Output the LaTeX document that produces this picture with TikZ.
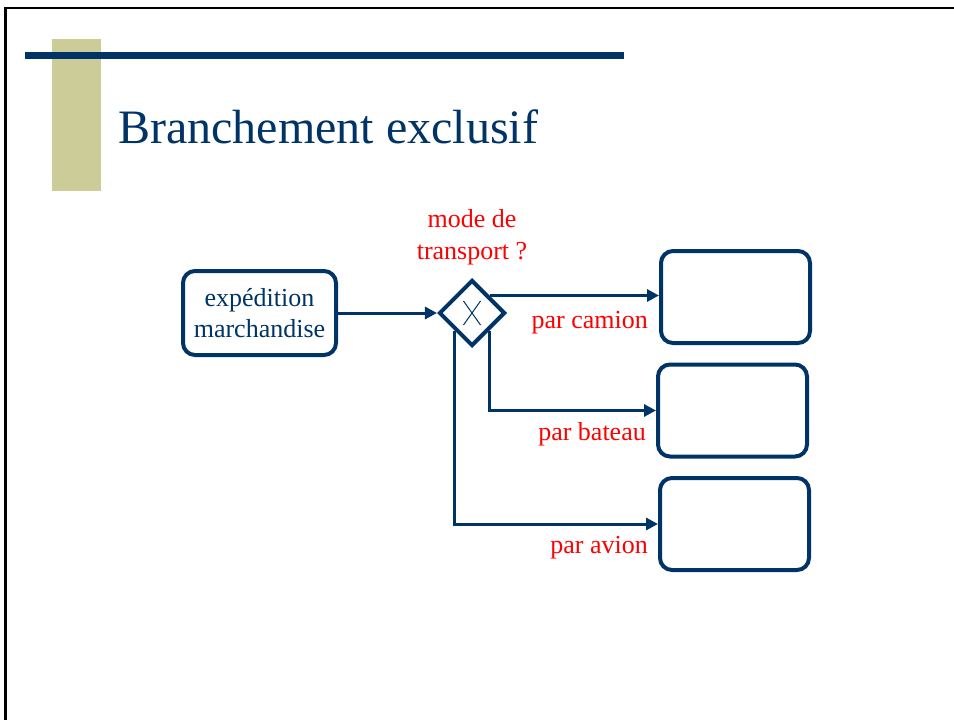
\documentclass[tikz,border=0pt]{standalone}
\usepackage{fontspec}
\setmainfont{Liberation Serif}
\usetikzlibrary{shapes.geometric,arrows.meta}
\definecolor{navy}{RGB}{0,51,102}
\definecolor{olive}{RGB}{204,204,153}
\definecolor{lblred}{RGB}{255,0,0}
\begin{document}
\begin{tikzpicture}[x=1pt,y=-1pt,
  task/.style={draw=navy,line width=4pt,rounded corners=12pt,minimum width=149pt,minimum height=92pt,inner sep=0pt},
  gateway/.style={draw=navy,line width=4pt,shape=diamond,aspect=1,minimum width=66pt,minimum height=66pt,inner sep=0pt},
  flow/.style={draw=navy,line width=3pt,-{Triangle[length=12pt,width=12pt]}},
  lbl/.style={text=lblred,font=\fontsize{26}{32}\selectfont,inner sep=0pt},
  body/.style={text=navy,font=\fontsize{26}{31}\selectfont,align=center}]
\useasboundingbox (0,0) rectangle (954,720);
\fill[white] (0,0) rectangle (954,720);
% frame
\draw[line width=2.5pt,black] (5.5,720) -- (5.5,8) -- (954,8);
% decoration
\fill[olive] (52,39) rectangle (101,191);
\fill[navy] (25,52) rectangle (624,59);
\node[anchor=base west,text=navy,font=\fontsize{48}{56}\selectfont,inner sep=0pt] (title) at (118,143) {Branchement exclusif};
% nodes
\node[task,minimum width=153pt,minimum height=84pt,body] (src) at (259.5,313) {exp\'edition\\marchandise};
\node[gateway] (gw) at (472,313) {};
\draw[navy,line width=1pt] ([shift={(-8.5,-12)}]gw.center) -- ([shift={(8.5,12)}]gw.center);
\draw[navy,line width=1pt] ([shift={(8.5,-12)}]gw.center) -- ([shift={(-8.5,12)}]gw.center);
\node[task] (b1) at (735.5,297) {};
\node[task] (b2) at (732.5,410.5) {};
\node[task] (b3) at (734.5,524) {};
% connectors
\draw[flow] (src) -- (gw);
\draw[flow] (gw.north east) -- (b1.west |- gw.north east);
\draw[flow] (gw.south east) |- (b2.west);
\draw[flow] (gw.south west) |- (b3.west);
% labels
\node[lbl,anchor=base] (q1) at (472,227) {mode de};
\node[lbl,anchor=base] (q2) at (472,259) {transport ?};
\node[lbl,anchor=base east] (l1) at (648,328) {par camion};
\node[lbl,anchor=base east] (l2) at (646,440) {par bateau};
\node[lbl,anchor=base east] (l3) at (648,553) {par avion};
\end{tikzpicture}
\end{document}
